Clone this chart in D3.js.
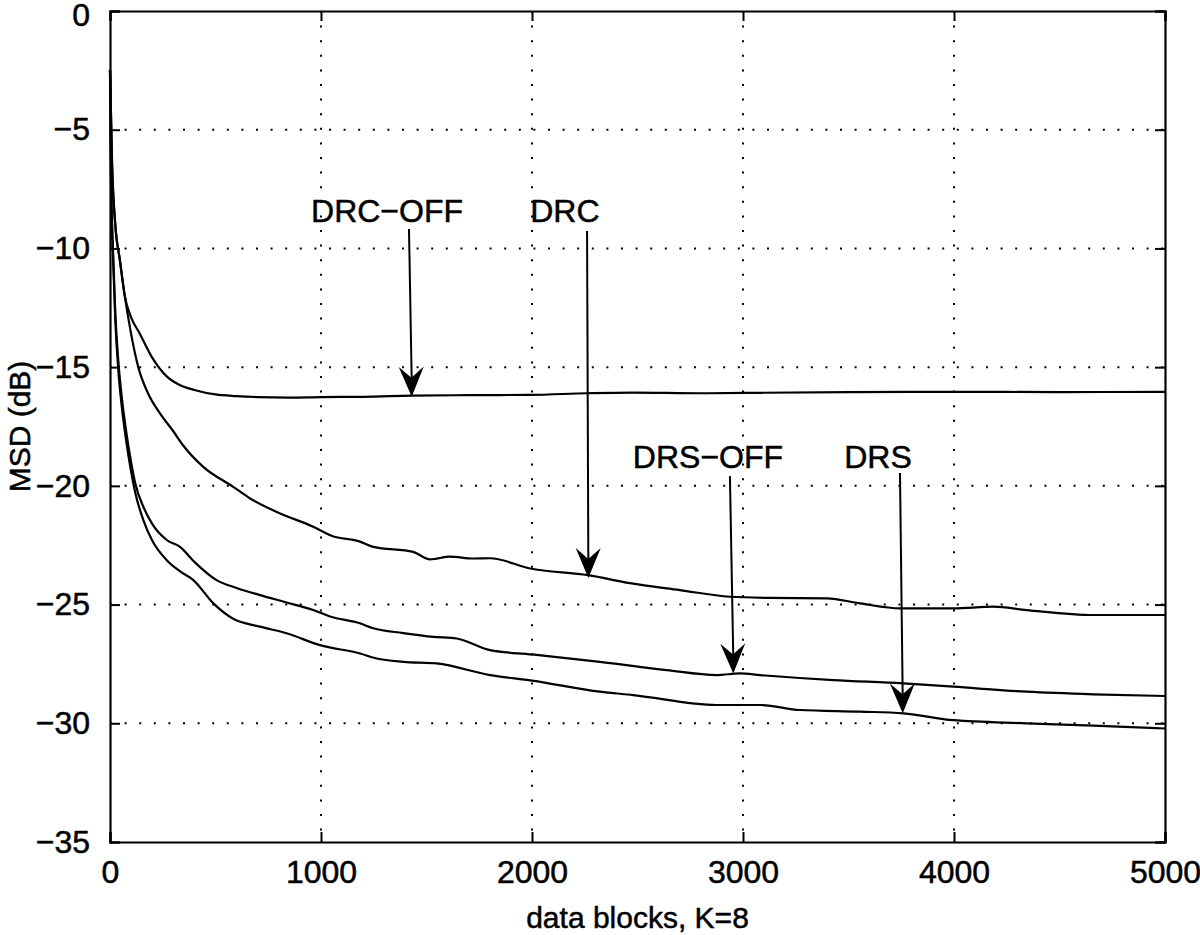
<!DOCTYPE html>
<html>
<head>
<meta charset="utf-8">
<script src="https://cdn.jsdelivr.net/npm/d3@7"></script>
<style>
  body { margin: 0; background: #fff; }
  svg { display: block; }
  text { font-family: "Liberation Sans", Arial, Helvetica, sans-serif; fill: #000; stroke: #000; stroke-width: 0.5; }
</style>
</head>
<body>
<div id="chart"></div>
<script>
// x positions (data blocks) and MSD values (dB)
const drcOffX = [0, 10, 25, 47, 70, 100, 142, 200, 270, 330, 400, 500, 600, 700, 850, 1000, 1200, 1430, 1700, 1990, 2260, 2480, 2800, 3081, 3500, 4000, 4500, 5000];
const drcOffY = [-2.5, -6.5, -9.0, -10.5, -12.0, -12.9, -13.6, -14.6, -15.4, -15.75, -15.96, -16.15, -16.22, -16.26, -16.28, -16.26, -16.25, -16.2, -16.18, -16.17, -16.1, -16.07, -16.1, -16.08, -16.05, -16.04, -16.05, -16.04];

const drcX = [0, 10, 25, 47, 70, 100, 134, 180, 237, 300, 347, 442, 584, 664, 806, 963, 1050, 1185, 1248, 1437, 1517, 1611, 1722, 1801, 1991, 2267, 2464, 2701, 2938, 3128, 3397, 3555, 3744, 3997, 4186, 4344, 4660, 5000];
const drcY = [-2.5, -6.5, -9.0, -10.5, -12.0, -13.6, -15.0, -16.1, -16.95, -17.7, -18.3, -19.2, -20.04, -20.53, -21.16, -21.72, -22.1, -22.35, -22.57, -22.78, -23.1, -22.98, -23.06, -23.05, -23.48, -23.76, -24.1, -24.39, -24.67, -24.72, -24.74, -24.95, -25.16, -25.16, -25.09, -25.23, -25.44, -25.44];

const drsOffX = [0, 5, 15, 25, 40, 55, 75, 100, 120, 158, 200, 269, 332, 400, 505, 600, 711, 832, 963, 1043, 1185, 1248, 1390, 1532, 1643, 1801, 2000, 2322, 2638, 2875, 2986, 3081, 3428, 3760, 3997, 4344, 4660, 5000];
const drsOffY = [-2.5, -7.0, -10.3, -12.7, -14.8, -16.2, -17.6, -19.0, -19.9, -20.88, -21.6, -22.28, -22.57, -23.2, -23.97, -24.3, -24.6, -24.9, -25.23, -25.5, -25.79, -26.0, -26.2, -26.36, -26.43, -26.92, -27.1, -27.41, -27.76, -27.97, -27.9, -27.97, -28.18, -28.32, -28.46, -28.67, -28.78, -28.85];

const drsX = [0, 5, 15, 25, 40, 55, 75, 100, 120, 158, 200, 269, 332, 395, 490, 584, 711, 837, 995, 1185, 1264, 1390, 1548, 1801, 2000, 2322, 2480, 2875, 3081, 3270, 3555, 3760, 3997, 4344, 4660, 5000];
const drsY = [-2.5, -7.0, -10.5, -13.0, -15.2, -16.6, -18.0, -19.4, -20.3, -21.44, -22.3, -23.13, -23.6, -23.97, -24.95, -25.6, -25.93, -26.21, -26.71, -27.06, -27.27, -27.41, -27.48, -27.97, -28.2, -28.67, -28.81, -29.23, -29.23, -29.44, -29.51, -29.58, -29.87, -30.0, -30.1, -30.22];

const xTicks = [0, 1000, 2000, 3000, 4000, 5000];
const yTicks = [0, -5, -10, -15, -20, -25, -30, -35];

// annotation labels: text, label position, arrow tail, arrow tip (data units)
const labelNames = ["DRC\u2212OFF", "DRC", "DRS\u2212OFF", "DRS"];
const labelX = [1313, 2156, 2834, 3640];
const labelY = [-8.89, -8.89, -19.25, -19.25];
const tailX = [1417, 2261, 2938, 3744];
const tailY = [-9.18, -9.27, -19.59, -19.46];
const tipX = [1430, 2267, 2954, 3757];
const tipY = [-16.25, -23.88, -27.9, -29.58];

const WIDTH = 1200, HEIGHT = 935;
const margin = {left: 110, top: 11, right: 35, bottom: 93};

const svg = d3.select("#chart").append("svg")
    .attr("width", WIDTH)
    .attr("height", HEIGHT);

const x = d3.scaleLinear().domain([0, 5000]).range([margin.left, WIDTH - margin.right]);
const y = d3.scaleLinear().domain([-35, 0]).range([HEIGHT - margin.bottom, margin.top]);

// dotted grid
const grid = svg.append("g");
grid.selectAll(".gx").data(xTicks.slice(1, -1)).join("line")
    .attr("x1", d => x(d)).attr("x2", d => x(d))
    .attr("y1", y(0)).attr("y2", y(-35))
    .attr("stroke", "#000").attr("stroke-width", 2)
    .attr("stroke-dasharray", "2,12.6");
grid.selectAll(".gy").data(yTicks.slice(1, -1)).join("line")
    .attr("x1", x(0)).attr("x2", x(5000))
    .attr("y1", d => y(d)).attr("y2", d => y(d))
    .attr("stroke", "#000").attr("stroke-width", 2)
    .attr("stroke-dasharray", "2,12.6");

// axes with inward ticks
const fmt = d => d < 0 ? "\u2212" + Math.abs(d) : String(d);
const bottomAxis = svg.append("g")
    .attr("transform", `translate(0,${y(-35)})`)
    .call(d3.axisBottom(x).tickValues(xTicks).tickSize(-10).tickPadding(18).tickFormat(fmt));
const topAxis = svg.append("g")
    .attr("transform", `translate(0,${y(0)})`)
    .call(d3.axisTop(x).tickValues(xTicks).tickSize(-10).tickFormat(""));
const leftAxis = svg.append("g")
    .attr("transform", `translate(${x(0)},0)`)
    .call(d3.axisLeft(y).tickValues(yTicks).tickSize(-10).tickPadding(20).tickFormat(fmt));
const rightAxis = svg.append("g")
    .attr("transform", `translate(${x(5000)},0)`)
    .call(d3.axisRight(y).tickValues(yTicks).tickSize(-10).tickFormat(""));

[bottomAxis, topAxis, leftAxis, rightAxis].forEach(g => {
    g.select(".domain").attr("stroke", "#000").attr("stroke-width", 2.2);
    g.selectAll(".tick line").attr("stroke", "#000").attr("stroke-width", 2);
    g.selectAll(".tick text").attr("font-size", 32).attr("font-family", "Liberation Sans, Arial, sans-serif").attr("fill", "#000");
});
// keep the top "0" label inside the picture
leftAxis.selectAll(".tick text").filter(d => d === 0).attr("dy", "0.46em");

// axis titles
svg.append("text")
    .attr("x", (x(0) + x(5000)) / 2)
    .attr("y", 928)
    .attr("text-anchor", "middle")
    .attr("font-size", 30)
    .text("data blocks, K=8");

svg.append("text")
    .attr("transform", `translate(30,${(y(0) + y(-35)) / 2}) rotate(-90)`)
    .attr("text-anchor", "middle")
    .attr("font-size", 30)
    .text("MSD (dB)");

// curves
const line = d3.line().x(d => x(d[0])).y(d => y(d[1])).curve(d3.curveMonotoneX);
const series = [
    d3.zip(drcOffX, drcOffY),
    d3.zip(drcX, drcY),
    d3.zip(drsOffX, drsOffY),
    d3.zip(drsX, drsY)
];
svg.append("g").selectAll("path").data(series).join("path")
    .attr("d", line)
    .attr("fill", "none")
    .attr("stroke", "#000")
    .attr("stroke-width", 2.2)
    .attr("stroke-linejoin", "round");

// annotations with arrows
const notes = svg.append("g");
labelNames.forEach((name, i) => {
    notes.append("text")
        .attr("x", x(labelX[i]))
        .attr("y", y(labelY[i]))
        .attr("text-anchor", "middle")
        .attr("font-size", 32)
        .text(name);

    const x0 = x(tailX[i]), y0 = y(tailY[i]);
    const x1 = x(tipX[i]), y1 = y(tipY[i]);
    const ang = Math.atan2(y1 - y0, x1 - x0) * 180 / Math.PI - 90;

    notes.append("line")
        .attr("x1", x0).attr("y1", y0)
        .attr("x2", x1).attr("y2", y1 - 15)
        .attr("stroke", "#000").attr("stroke-width", 2);

    // concave arrow head pointing at the tip
    notes.append("path")
        .attr("d", "M0,0 L-12.5,-30 L0,-19 L12.5,-30 Z")
        .attr("transform", `translate(${x1},${y1}) rotate(${ang})`)
        .attr("fill", "#000");
});
</script>
</body>
</html>
